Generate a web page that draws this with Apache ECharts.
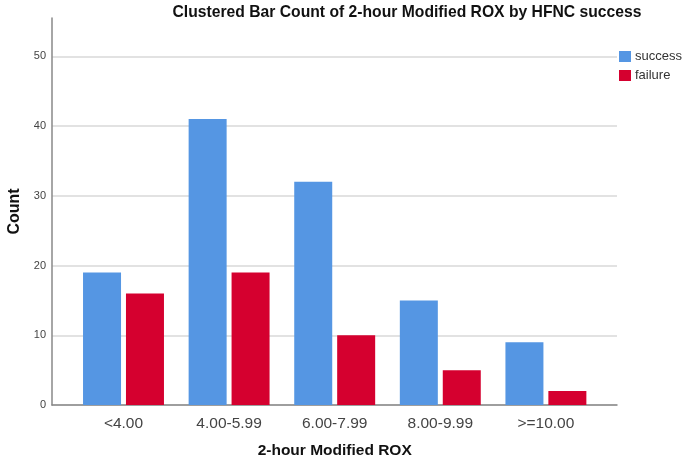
<!DOCTYPE html>
<html>
<head>
<meta charset="utf-8">
<script src="https://cdn.jsdelivr.net/npm/echarts@6/dist/echarts.min.js"></script>
<style>html,body{margin:0;padding:0;background:#fff;}#c{width:699px;height:461px;}</style>
</head>
<body>
<div id="c"></div>
<script>
const categories = ['<4.00', '4.00-5.99', '6.00-7.99', '8.00-9.99', '>=10.00'];
const successValues = [19, 41, 32, 15, 9];
const failureValues = [16, 19, 10, 5, 2];
const seriesNames = ['success', 'failure'];
const yTicks = [0, 10, 20, 30, 40, 50];

const chart = echarts.init(document.getElementById('c'), null, {renderer: 'canvas'});
const yMax = 55.5;
const gridColors = yTicks.map(() => '#d9d9d9').concat(['rgba(0,0,0,0)']);
const font = 'Arial, "Liberation Sans", sans-serif';

chart.setOption({
  animation: false,
  backgroundColor: '#fff',
  title: {
    text: 'Clustered Bar Count of 2-hour Modified ROX by HFNC success',
    left: 402, top: 0, textAlign: 'center',
    textStyle: {fontFamily: font, fontSize: 15.7, fontWeight: 'bold', color: '#111'}
  },
  legend: {
    orient: 'vertical', left: 619, top: 50, padding: 0,
    itemWidth: 12, itemHeight: 11, itemGap: 6,
    icon: 'rect',
    data: seriesNames,
    textStyle: {fontFamily: font, fontSize: 13, color: '#333', padding: [0,0,0,-1]}
  },
  grid: [
    {left: 52, right: 82, top: 18, bottom: 56, outerBoundsMode: 'none', containLabel: false},
    {left: 70.7, right: 100.3, top: 18, bottom: 56, outerBoundsMode: 'none', containLabel: false}
  ],
  xAxis: [
    {gridIndex: 0, type: 'value', min: 0, max: 1, show: true,
     axisLine: {show: true, lineStyle: {color: '#888', width: 1.5}},
     axisTick: {show: false}, axisLabel: {show: false}, splitLine: {show: false}},
    {gridIndex: 1, type: 'category', data: categories,
     axisLine: {show: false}, axisTick: {show: false},
     axisLabel: {fontFamily: font, fontSize: 15.5, color: '#444', margin: 11},
     name: '2-hour Modified ROX', nameLocation: 'middle', nameGap: 38,
     nameTextStyle: {fontFamily: font, fontSize: 15.5, fontWeight: 'bold', color: '#111'}}
  ],
  yAxis: [
    {gridIndex: 0, type: 'value', min: 0, max: yMax, interval: 10,
     axisLine: {show: true, lineStyle: {color: '#888', width: 1.5}},
     axisTick: {show: false},
     axisLabel: {fontFamily: font, fontSize: 11, color: '#444', margin: 6,
       formatter: v => (yTicks.indexOf(v) >= 0 ? String(v) : '')},
     splitLine: {show: true, lineStyle: {color: gridColors, width: 1.5}},
     name: 'Count', nameLocation: 'middle', nameGap: 29,
     nameTextStyle: {fontFamily: font, fontSize: 16, fontWeight: 'bold', color: '#111'}},
    {gridIndex: 1, type: 'value', min: 0, max: yMax, show: false, splitLine: {show: false}}
  ],
  series: [
    {name: seriesNames[0], type: 'bar', xAxisIndex: 1, yAxisIndex: 1, data: successValues,
     barWidth: 38, barGap: '13%', itemStyle: {color: '#5596E3'}},
    {name: seriesNames[1], type: 'bar', xAxisIndex: 1, yAxisIndex: 1, data: failureValues,
     barWidth: 38, barGap: '13%', itemStyle: {color: '#D5002F'}}
  ]
});
</script>
</body>
</html>
